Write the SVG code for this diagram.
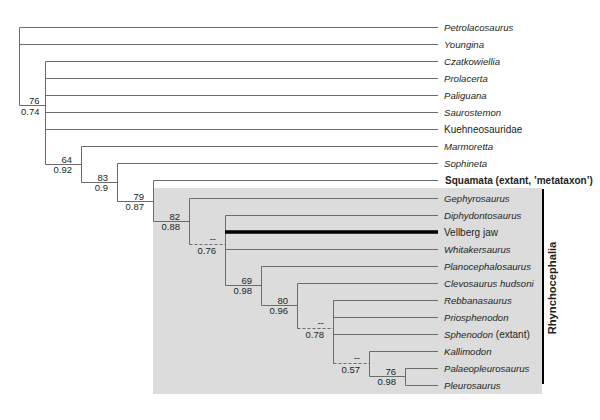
<svg xmlns="http://www.w3.org/2000/svg" width="600" height="420" viewBox="0 0 600 420">
<style>
.br{stroke:#6b6b6b;stroke-width:1;fill:none}
.ds{stroke:#6b6b6b;stroke-width:1;fill:none;stroke-dasharray:3 2}
.vj{stroke:#000;stroke-width:3.5;fill:none}
.t{font-family:"Liberation Sans",Arial,sans-serif;font-size:10px;fill:#231f20}
.i{font-style:italic;font-size:9.6px}
.b{font-weight:bold}
.s{font-family:"Liberation Sans",Arial,sans-serif;font-size:9.5px;fill:#231f20;text-anchor:end}
</style>
<rect x="153" y="188" width="389" height="206" fill="#dcdcdd"/>
<g id="connectors">
<path class="br" d="M19.5 27.5H438M19.5 44.5H438M19.5 27.5V105.5H45.5"/>
<path class="br" d="M45.5 61.5V164.5M45.5 61.5H438M45.5 78.5H438M45.5 95.5H438M45.5 112.5H438M45.5 129.5H438M45.5 164.5H81.5"/>
<path class="br" d="M81.5 146.5V182.5M81.5 146.5H438M81.5 182.5H117.5"/>
<path class="br" d="M117.5 163.5V201.5M117.5 163.5H438M117.5 201.5H153.5"/>
<path class="br" d="M153.5 180.5V221.5M153.5 180.5H438M153.5 221.5H189.5"/>
<path class="br" d="M189.5 198.5V244.5M189.5 198.5H438"/>
<path class="ds" d="M189.5 244.5H225.5"/>
<path class="br" d="M225.5 215.5V285.5M225.5 215.5H438M225.5 249.5H438M225.5 285.5H261.5"/>
<path class="vj" d="M225 232H438"/>
<path class="br" d="M261.5 266.5V305.5M261.5 266.5H438M261.5 305.5H297.5"/>
<path class="br" d="M297.5 283.5V328.5M297.5 283.5H438"/>
<path class="ds" d="M297.5 328.5H333.5"/>
<path class="br" d="M333.5 300.5V363.5M333.5 300.5H438M333.5 317.5H438M333.5 334.5H438"/>
<path class="ds" d="M333.5 363.5H369.5"/>
<path class="br" d="M369.5 351.5V376.5M369.5 351.5H438M369.5 376.5H405.5"/>
<path class="br" d="M405.5 368.5V385.5M405.5 368.5H438M405.5 385.5H438"/>
</g>
<g id="support">
<text class="s" x="39.5" y="104">76</text><text class="s" x="39.5" y="115">0.74</text>
<text class="s" x="72" y="162.5">64</text><text class="s" x="72" y="173">0.92</text>
<text class="s" x="108" y="180.5">83</text><text class="s" x="108" y="191">0.9</text>
<text class="s" x="144" y="199.5">79</text><text class="s" x="144" y="210">0.87</text>
<text class="s" x="180" y="219.5">82</text><text class="s" x="180" y="230">0.88</text>
<text class="s" x="216" y="241.5">--</text><text class="s" x="216" y="253.5">0.76</text>
<text class="s" x="252" y="283.5">69</text><text class="s" x="252" y="294">0.98</text>
<text class="s" x="288" y="303.5">80</text><text class="s" x="288" y="314">0.96</text>
<text class="s" x="324" y="325.5">--</text><text class="s" x="324" y="337.5">0.78</text>
<text class="s" x="360" y="360.5">--</text><text class="s" x="360" y="372.5">0.57</text>
<text class="s" x="396" y="374.5">76</text><text class="s" x="396" y="385">0.98</text>
</g>
<g id="taxa">
<text class="t i" x="444" y="30.5">Petrolacosaurus</text>
<text class="t i" x="444" y="47.5">Youngina</text>
<text class="t i" x="444" y="64.5">Czatkowiellia</text>
<text class="t i" x="444" y="81.5">Prolacerta</text>
<text class="t i" x="444" y="98.5">Paliguana</text>
<text class="t i" x="444" y="115.5">Saurostemon</text>
<text class="t" x="444" y="132.5">Kuehneosauridae</text>
<text class="t i" x="444" y="149.5">Marmoretta</text>
<text class="t i" x="444" y="166.5">Sophineta</text>
<text class="t b" x="445" y="184">Squamata (extant, ’metataxon’)</text>
<text class="t i" x="444" y="201.5">Gephyrosaurus</text>
<text class="t i" x="444" y="218.5">Diphydontosaurus</text>
<text class="t" x="444" y="235.5">Vellberg jaw</text>
<text class="t i" x="444" y="252.5">Whitakersaurus</text>
<text class="t i" x="444" y="269.5">Planocephalosaurus</text>
<text class="t i" x="444" y="286.5">Clevosaurus hudsoni</text>
<text class="t i" x="444" y="303.5">Rebbanasaurus</text>
<text class="t i" x="444" y="320.5">Priosphenodon</text>
<text class="t" x="444" y="337.5"><tspan font-style="italic" font-size="9.6">Sphenodon</tspan> (extant)</text>
<text class="t i" x="444" y="354.5">Kallimodon</text>
<text class="t i" x="444" y="371.5">Palaeopleurosaurus</text>
<text class="t i" x="444" y="388.5">Pleurosaurus</text>
</g>
<g id="rhynchocephalia">
<path d="M543 189V384" stroke="#000" stroke-width="2" fill="none"/>
<text class="t b" font-size="11.2" text-anchor="middle" transform="translate(556,288) rotate(-90)" style="font-size:11.2px">Rhynchocephalia</text>
</g>
</svg>
